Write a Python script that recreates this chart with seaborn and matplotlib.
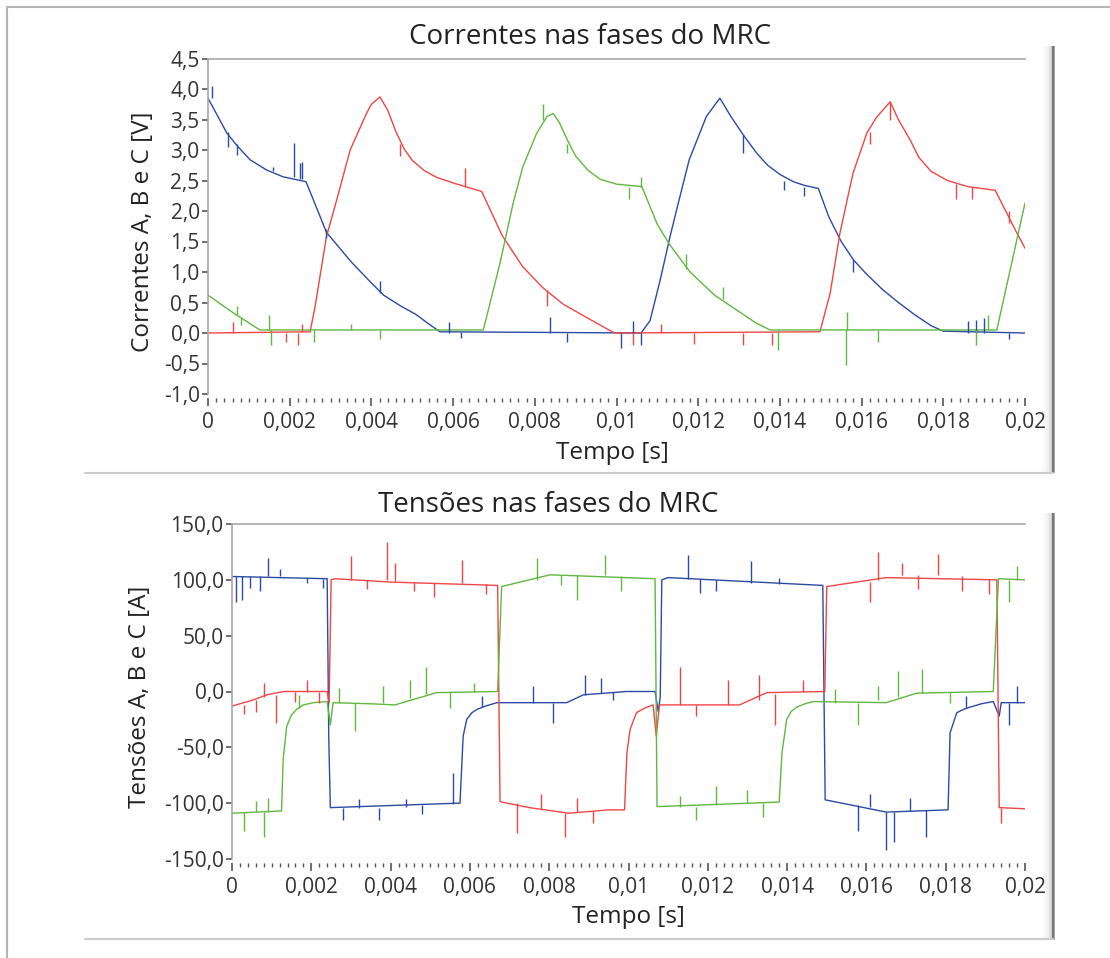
import numpy as np
import pandas as pd
import matplotlib
matplotlib.use("Agg")
import matplotlib.pyplot as plt
import seaborn as sns

# ---- correntes (painel de cima) ----
t_ia = [0, 0.00046, 0.0007, 0.00103, 0.00144, 0.00184, 0.0024, 0.0029, 0.0035, 0.004,
        0.0043, 0.0047, 0.0051, 0.0054, 0.00568, 0.0106, 0.01082, 0.01107, 0.01131, 0.01155,
        0.01178, 0.0122, 0.01253, 0.0128, 0.0131, 0.01343, 0.0137, 0.014, 0.01433, 0.0146,
        0.01494, 0.0152, 0.0155, 0.0158, 0.0161, 0.0165, 0.0169, 0.0173, 0.0177, 0.018, 0.02]
ia = [3.85, 3.28, 3.08, 2.84, 2.67, 2.56, 2.48, 1.65, 1.17, 0.82,
      0.62, 0.45, 0.30, 0.15, 0.02, 0.0, 0.2, 0.87, 1.58, 2.23,
      2.84, 3.55, 3.85, 3.55, 3.25, 2.95, 2.75, 2.6, 2.48, 2.42,
      2.37, 1.9, 1.5, 1.2, 0.98, 0.72, 0.5, 0.3, 0.12, 0.03, 0.0]

t_ib = [0, 0.0025, 0.00262, 0.0029, 0.00315, 0.00348, 0.00388, 0.004, 0.00421, 0.0044,
        0.0046, 0.0048, 0.005, 0.0053, 0.0056, 0.006, 0.0064, 0.0067, 0.0072, 0.0077,
        0.0082, 0.0087, 0.0092, 0.0096, 0.00995, 0.01498, 0.01523, 0.01547, 0.01579, 0.01613,
        0.01637, 0.0167, 0.0169, 0.0172, 0.0174, 0.0177, 0.0181, 0.0186, 0.01927, 0.0198, 0.02]
ib = [0.0, 0.02, 0.43, 1.58, 2.18, 3.0, 3.6, 3.75, 3.87, 3.65,
      3.3, 3.02, 2.83, 2.66, 2.55, 2.46, 2.38, 2.32, 1.6, 1.09,
      0.74, 0.47, 0.28, 0.13, 0.0, 0.02, 0.65, 1.64, 2.62, 3.28,
      3.54, 3.79, 3.5, 3.15, 2.88, 2.65, 2.5, 2.4, 2.34, 1.64, 1.39]

t_ic = [0, 0.00062, 0.00127, 0.00674, 0.00715, 0.00731, 0.00747, 0.00771, 0.00805, 0.0083,
        0.00845, 0.0086, 0.0088, 0.009, 0.0093, 0.0096, 0.01, 0.01062, 0.011, 0.0113,
        0.0118, 0.0124, 0.013, 0.0134, 0.01376, 0.01931, 0.02]
ic = [0.62, 0.33, 0.05, 0.05, 1.15, 1.64, 2.13, 2.73, 3.28, 3.55,
      3.6, 3.45, 3.16, 2.9, 2.67, 2.52, 2.44, 2.40, 1.78, 1.45,
      1.0, 0.62, 0.35, 0.17, 0.05, 0.05, 2.13]

# ruido (t, base, pico)
sp_ia = [(0.0001, 3.85, 4.05), (0.0005, 3.3, 3.05), (0.0007, 3.1, 2.92), (0.0016, 2.65, 2.72),
         (0.0021, 2.55, 3.12), (0.00225, 2.53, 2.78), (0.0023, 2.52, 2.8), (0.0029, 1.7, 1.55),
         (0.0042, 0.65, 0.85), (0.0059, 0.0, 0.18), (0.0062, 0.02, -0.08), (0.00837, 0.0, 0.27),
         (0.00878, 0.0, -0.15), (0.0101, 0.0, -0.25), (0.0104, 0.0, 0.2), (0.0106, 0.0, -0.2),
         (0.0131, 3.25, 2.95), (0.0141, 2.5, 2.35), (0.0146, 2.4, 2.25), (0.0158, 1.2, 1.0),
         (0.0186, 0.0, 0.2), (0.0188, 0.0, 0.22), (0.019, 0.0, 0.25), (0.0196, 0.0, -0.1)]
sp_ib = [(0.0006, 0.0, 0.18), (0.0019, 0.0, -0.15), (0.0022, 0.0, -0.2), (0.0023, 0.02, 0.15),
         (0.0047, 3.1, 2.9), (0.0063, 2.4, 2.7), (0.0083, 0.7, 0.45), (0.0104, 0.0, -0.2),
         (0.0111, 0.0, 0.15), (0.0119, 0.0, -0.18), (0.0131, 0.0, -0.2), (0.0138, 0.0, -0.2),
         (0.0162, 3.3, 3.1), (0.0167, 3.79, 3.5), (0.0183, 2.45, 2.2), (0.0187, 2.4, 2.2),
         (0.0196, 1.8, 2.0)]
sp_ic = [(0.0007, 0.3, 0.45), (0.0008, 0.25, 0.13), (0.0015, 0.05, 0.3), (0.00155, 0.05, -0.2),
         (0.0026, 0.05, -0.15), (0.0035, 0.05, 0.15), (0.0042, 0.05, -0.1), (0.0082, 3.5, 3.75),
         (0.0088, 3.1, 2.95), (0.0103, 2.4, 2.2), (0.0106, 2.4, 2.55), (0.0117, 1.05, 1.3),
         (0.0126, 0.55, 0.75), (0.01396, 0.05, -0.28), (0.01563, 0.05, -0.52), (0.01565, 0.05, 0.35),
         (0.0164, 0.05, -0.15), (0.0188, 0.05, -0.2), (0.0191, 0.05, 0.3)]

# ---- tensoes (painel de baixo) ----
t_va = [0, 0.0024, 0.00244, 0.00248, 0.0057, 0.00575, 0.00583, 0.00592, 0.00605, 0.00618,
        0.0064, 0.00668, 0.00844, 0.00886, 0.00995, 0.01067, 0.01075, 0.0108, 0.01084, 0.011,
        0.0149, 0.01496, 0.0165, 0.01806, 0.01811, 0.01828, 0.01845, 0.01861, 0.0189, 0.0192,
        0.01935, 0.0194, 0.02]
va = [103, 101, -40, -104, -100, -100, -40, -25, -19, -16,
      -13, -10, -10, -3, 0, 0, -18, -5, 100, 102,
      95, -97, -108, -106, -37, -19, -16, -14, -11, -9,
      -22, -10, -10]

t_vb = [0, 0.0005, 0.00088, 0.0013, 0.0024, 0.00245, 0.0025, 0.0026, 0.004, 0.0067,
        0.00676, 0.0068, 0.0075, 0.0085, 0.0095, 0.0099, 0.00996, 0.01004, 0.0102, 0.0104,
        0.01062, 0.0107, 0.01078, 0.0128, 0.01349, 0.01495, 0.015, 0.0165, 0.01929, 0.01935,
        0.02]
vb = [-13, -8, -3, 0, 0, -10, 100, 101, 98, 95,
      -98, -99, -104, -109, -106, -106, -55, -34, -19, -15,
      -12, -40, -12, -12, -1, 0, 94, 102, 100, -104,
      -105]

t_vc = [0, 0.00125, 0.00129, 0.00138, 0.0015, 0.00163, 0.0018, 0.00205, 0.0024, 0.00248,
        0.00255, 0.0035, 0.00411, 0.00516, 0.0067, 0.0068, 0.00802, 0.01067, 0.01072, 0.0108,
        0.0138, 0.01387, 0.01399, 0.0141, 0.01424, 0.01445, 0.01466, 0.0165, 0.01727, 0.0192,
        0.01933, 0.02]
vc = [-109, -107, -61, -31, -21, -16, -12, -10, -9, -30,
      -10, -11, -12, -1, 0, 94, 104.5, 101, -103, -103,
      -99, -55, -25, -18, -14, -11, -9, -10, -1.5, 0,
      101, 100]

sp_va = [(0.0001, 103, 80), (0.00025, 103, 82), (0.00045, 103, 93), (0.0007, 103, 90),
         (0.0009, 103, 120), (0.0012, 103, 110), (0.0019, 102, 97), (0.0023, 101, 93),
         (0.0028, -104, -115), (0.0032, -104, -96), (0.0037, -104, -115), (0.0044, -103, -96),
         (0.0048, -102, -110), (0.00558, -101, -73), (0.0063, -14, -4), (0.0076, -10, 5),
         (0.0081, -10, -28), (0.0089, -3, 15), (0.0093, -1, 12), (0.0096, 0, -8),
         (0.0115, 101, 122), (0.0118, 101, 88), (0.0122, 100, 90), (0.0131, 97, 117),
         (0.0138, 96, 102), (0.0158, -102, -125), (0.0161, -103, -92), (0.0165, -108, -142),
         (0.0167, -108, -135), (0.0171, -107, -95), (0.0175, -106, -130), (0.0185, -15, -4),
         (0.0196, -10, -30), (0.0198, -10, 5)]
sp_vb = [(0.0003, -12, -20), (0.0006, -8, -18), (0.0008, -5, 8), (0.0011, -3, -28),
         (0.0016, 0, -9), (0.0019, 0, 10), (0.0022, 0, -10), (0.003, 100, 121),
         (0.0034, 100, 92), (0.0039, 100, 134), (0.0041, 99, 115), (0.0046, 98, 90),
         (0.0051, 97, 85), (0.0058, 97, 118), (0.0064, 96, 87), (0.0072, -100, -127),
         (0.0078, -105, -92), (0.0084, -109, -130), (0.0087, -108, -95), (0.0091, -107, -118),
         (0.0113, -12, 22), (0.0117, -12, -22), (0.0125, -12, 10), (0.0133, -8, 15),
         (0.0137, -2, -30), (0.0144, 0, 10), (0.0161, 98, 80), (0.0163, 100, 125),
         (0.0169, 104, 115), (0.0173, 104, 92), (0.0178, 104, 123), (0.0184, 103, 90),
         (0.0191, 101, 87), (0.0194, -104, -118)]
sp_vc = [(0.0003, -108, -125), (0.0006, -108, -98), (0.0008, -108, -130), (0.0009, -108, -95),
         (0.0017, -15, -3), (0.0027, -10, 3), (0.0031, -10, -35), (0.0038, -10, 5),
         (0.0045, -6, 10), (0.0049, -2, 22), (0.0055, 0, -15), (0.0061, 0, 8),
         (0.0077, 100, 120), (0.0083, 104, 95), (0.0087, 104, 82), (0.0094, 104, 122),
         (0.0098, 103, 90), (0.0113, -103, -94), (0.0117, -103, -115), (0.0122, -102, -85),
         (0.013, -100, -88), (0.0134, -100, -112), (0.0152, -10, 2), (0.0158, -10, -30),
         (0.0163, -8, 5), (0.0168, -5, 18), (0.0174, -1, 20), (0.0181, 0, -10),
         (0.0196, 100, 80), (0.0198, 100, 112)]

x_ticks = [0, 0.002, 0.004, 0.006, 0.008, 0.01, 0.012, 0.014, 0.016, 0.018, 0.02]
x_labels = ["0", "0,002", "0,004", "0,006", "0,008", "0,01", "0,012", "0,014", "0,016", "0,018", "0,02"]
yi_ticks = [-1.0, -0.5, 0.0, 0.5, 1.0, 1.5, 2.0, 2.5, 3.0, 3.5, 4.0, 4.5]
yi_labels = ["-1,0", "-0,5", "0,0", "0,5", "1,0", "1,5", "2,0", "2,5", "3,0", "3,5", "4,0", "4,5"]
yv_ticks = [-150, -100, -50, 0, 50, 100, 150]
yv_labels = ["-150,0", "-100,0", "-50,0", "0,0", "50,0", "100,0", "150,0"]

cores = {"A": "#2b4aa3", "B": "#f04545", "C": "#5fb83f"}

sns.set_style("white")
plt.rcParams["font.family"] = ["Open Sans", "DejaVu Sans"]

fig = plt.figure(figsize=(11.1, 9.58), dpi=100)
W, H = 1110, 958


def fx(px):
    return px / W


def fy(py):
    return 1 - py / H


def painel(rect, series, spikes, yticks, ylabels, ylim):
    ax = fig.add_axes(rect)
    ax.set_zorder(3)
    frames = [pd.DataFrame({"t": t, "v": v, "fase": f}) for f, t, v in series]
    df = pd.concat(frames, ignore_index=True)
    sns.lineplot(data=df, x="t", y="v", hue="fase", palette=cores, sort=False,
                 estimator=None, linewidth=1.0, legend=False, ax=ax)
    for f, sp in spikes:
        ts = [s[0] for s in sp]
        ax.vlines(ts, [s[1] for s in sp], [s[2] for s in sp], color=cores[f], linewidth=1.0)
    ax.set_xlim(0, 0.02)
    ax.set_ylim(*ylim)
    ax.set_xlabel("")
    ax.set_ylabel("")
    ax.set_xticks(x_ticks)
    ax.set_xticklabels(x_labels)
    ax.set_xticks(np.arange(0, 0.02001, 0.0002), minor=True)
    ax.set_yticks(yticks)
    ax.set_yticklabels(ylabels)
    for s in ["right", "bottom"]:
        ax.spines[s].set_visible(False)
    ax.spines["bottom"].set_position(("outward", 3))
    for s in ["left", "top"]:
        ax.spines[s].set_color("#a8a8a8")
        ax.spines[s].set_linewidth(1.2)
    ax.tick_params(axis="x", which="major", direction="out", length=6, width=1.2,
                   color="#555555", labelsize=15, labelcolor="#333333", pad=4, bottom=True)
    ax.tick_params(axis="x", which="minor", direction="out", length=3, width=1,
                   color="#555555", bottom=True)
    ax.tick_params(axis="y", direction="out", length=4, width=1.2, color="#555555",
                   labelsize=15, labelcolor="#333333", pad=2, left=True)
    ax.grid(False)
    return ax


painel([fx(208), fy(394), fx(817), (394 - 58.5) / H],
       [("A", t_ia, ia), ("B", t_ib, ib), ("C", t_ic, ic)],
       [("A", sp_ia), ("B", sp_ib), ("C", sp_ic)],
       yi_ticks, yi_labels, (-1.0, 4.5))
painel([fx(232), fy(859), fx(793), (859 - 524) / H],
       [("A", t_va, va), ("B", t_vb, vb), ("C", t_vc, vc)],
       [("A", sp_va), ("B", sp_vb), ("C", sp_vc)],
       yv_ticks, yv_labels, (-150, 150))

txt = "#222222"
fig.text(fx(590), fy(37), "Correntes nas fases do MRC", ha="center", va="center", fontsize=20, color=txt)
fig.text(fx(548), fy(505), "Tensões nas fases do MRC", ha="center", va="center", fontsize=20, color=txt)
fig.text(fx(612), fy(453), "Tempo [s]", ha="center", va="center", fontsize=17.5, color=txt)
fig.text(fx(628), fy(917), "Tempo [s]", ha="center", va="center", fontsize=17.5, color=txt)
fig.text(fx(143), fy(232), "Correntes A, B e C [V]", ha="center", va="center", rotation=90, fontsize=17.5, color=txt)
fig.text(fx(140), fy(697), "Tensões A, B e C [A]", ha="center", va="center", rotation=90, fontsize=17.5, color=txt)

# moldura e separadores
borda = dict(color="#b4b4b4", linewidth=1.5, transform=fig.transFigure)
fig.add_artist(plt.Line2D([fx(7), fx(7)], [fy(7), 0], **borda))
fig.add_artist(plt.Line2D([fx(7), 1], [fy(7), fy(7)], **borda))
sep = dict(color="#cccccc", linewidth=1.5, transform=fig.transFigure)
fig.add_artist(plt.Line2D([fx(85), fx(1053)], [fy(473), fy(473)], **sep))
fig.add_artist(plt.Line2D([fx(85), fx(1053)], [fy(939), fy(939)], **sep))

# sombra lateral
grad = np.linspace(0, 1, 64).reshape(1, -1) ** 2
for top, bot in [(46, 473), (513, 940)]:
    sax = fig.add_axes([fx(1040), fy(bot), fx(15), (bot - top) / H])
    sax.set_zorder(1)
    sax.imshow(grad * 0.45, cmap="Greys", aspect="auto", vmin=0, vmax=1)
    sax.axvline(56, color="#777777", linewidth=1.5)
    sax.axis("off")

fig.savefig("out.png", dpi=100)
